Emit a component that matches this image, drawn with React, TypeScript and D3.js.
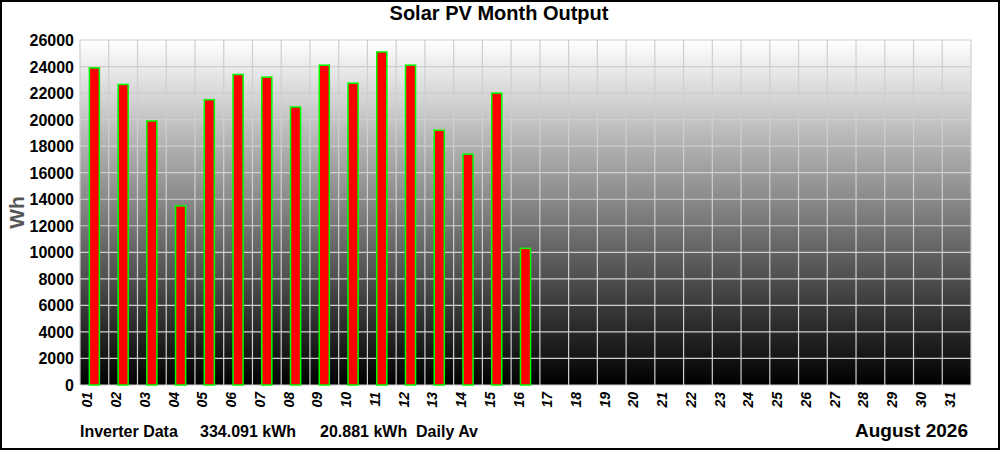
import { useEffect, useRef } from "react"
import * as d3 from "d3"

// daily output, Wh (days 17..31 have no data yet)
const days = d3.range(1, 32).map((d) => String(d).padStart(2, "0"))
const values = [
  23900, 22650, 19900, 13500, 21500, 23400, 23200, 20950, 24100, 22750, 25100,
  24100, 19200, 17400, 22000, 10300,
]
const yTicks = d3.range(0, 26001, 2000)
const title = "Solar PV Month Output"
const footerLabels = ["Inverter Data", "334.091 kWh", "20.881 kWh  Daily Av"]
const monthLabel = "August 2026"

const W = 1000
const H = 450
const FONT = "Arial, 'Liberation Sans', sans-serif"

const App = () => {
  const ref = useRef<SVGSVGElement>(null)

  useEffect(() => {
    const margin = { top: 40, right: 29, bottom: 65, left: 80 }
    const innerW = W - margin.left - margin.right
    const innerH = H - margin.top - margin.bottom

    const svg = d3.select(ref.current)
    svg.selectAll("*").remove()

    const defs = svg.append("defs")
    const grad = defs
      .append("linearGradient")
      .attr("id", "bg")
      .attr("x1", 0)
      .attr("y1", 0)
      .attr("x2", 0)
      .attr("y2", 1)
    grad.append("stop").attr("offset", "0%").attr("stop-color", "#ffffff")
    grad.append("stop").attr("offset", "100%").attr("stop-color", "#000000")

    svg.append("rect").attr("width", W).attr("height", H).attr("fill", "#fff")

    const g = svg
      .append("g")
      .attr("transform", "translate(" + margin.left + "," + margin.top + ")")

    const x = d3.scaleBand().domain(days).range([0, innerW]).padding(0)
    const y = d3.scaleLinear().domain([0, 26000]).range([innerH, 0])

    // plot background
    g.append("rect")
      .attr("width", innerW)
      .attr("height", innerH)
      .attr("fill", "url(#bg)")

    // grid
    g.selectAll(".hgrid")
      .data(yTicks)
      .enter()
      .append("line")
      .attr("x1", 0)
      .attr("x2", innerW)
      .attr("y1", (d) => y(d))
      .attr("y2", (d) => y(d))
      .attr("stroke", "#cfcfcf")
      .attr("stroke-width", 1.2)

    const vlines = days.map((d) => x(d) as number).concat([innerW])
    g.selectAll(".vgrid")
      .data(vlines)
      .enter()
      .append("line")
      .attr("x1", (d) => d)
      .attr("x2", (d) => d)
      .attr("y1", 0)
      .attr("y2", innerH)
      .attr("stroke", "#cfcfcf")
      .attr("stroke-width", 1.2)

    // bars
    const bw = x.bandwidth() * 0.35
    g.selectAll(".bar")
      .data(values)
      .enter()
      .append("rect")
      .attr("x", (d, i) => (x(days[i]) as number) + x.bandwidth() / 2 - bw / 2)
      .attr("y", (d) => y(d))
      .attr("width", bw)
      .attr("height", (d) => innerH - y(d))
      .attr("fill", "#ff0000")
      .attr("stroke", "#00ff00")
      .attr("stroke-width", 1.5)

    // y tick labels
    g.selectAll(".ylab")
      .data(yTicks)
      .enter()
      .append("text")
      .text((d) => d)
      .attr("x", -6)
      .attr("y", (d) => y(d) + 6)
      .attr("text-anchor", "end")
      .attr("font-family", FONT)
      .attr("font-weight", "bold")
      .attr("font-size", "16px")
      .attr("fill", "#000")

    // x tick labels
    g.selectAll(".xlab")
      .data(days)
      .enter()
      .append("text")
      .text((d) => d)
      .attr(
        "transform",
        (d) =>
          "translate(" +
          ((x(d) as number) + x.bandwidth() / 2 - 2) +
          "," +
          (innerH + 7) +
          ")rotate(-90)"
      )
      .attr("text-anchor", "end")
      .attr("font-family", FONT)
      .attr("font-weight", "bold")
      .attr("font-style", "italic")
      .attr("font-size", "14px")
      .attr("fill", "#000")

    // y axis title
    svg
      .append("text")
      .text("Wh")
      .attr("transform", "translate(24," + (margin.top + innerH / 2) + ")rotate(-90)")
      .attr("text-anchor", "middle")
      .attr("font-family", FONT)
      .attr("font-weight", "bold")
      .attr("font-size", "21px")
      .attr("fill", "#555")

    // title
    svg
      .append("text")
      .text(title)
      .attr("x", 499)
      .attr("y", 20)
      .attr("text-anchor", "middle")
      .attr("font-family", FONT)
      .attr("font-weight", "bold")
      .attr("font-size", "20px")
      .attr("fill", "#000")

    // footer
    const footerX = [80, 200, 320]
    svg
      .selectAll(".foot")
      .data(footerLabels)
      .enter()
      .append("text")
      .text((d) => d)
      .attr("x", (d, i) => footerX[i])
      .attr("y", 437)
      .attr("font-family", FONT)
      .attr("font-weight", "bold")
      .attr("font-size", "16px")
      .attr("fill", "#000")
      .style("white-space", "pre")

    svg
      .append("text")
      .text(monthLabel)
      .attr("x", 968)
      .attr("y", 437)
      .attr("text-anchor", "end")
      .attr("font-family", FONT)
      .attr("font-weight", "bold")
      .attr("font-size", "19px")
      .attr("fill", "#000")

    // outer border
    svg
      .append("rect")
      .attr("x", 1)
      .attr("y", 1)
      .attr("width", W - 2)
      .attr("height", H - 2)
      .attr("fill", "none")
      .attr("stroke", "#000")
      .attr("stroke-width", 2)
  }, [])

  return (
    <div style={{ position: "absolute", left: 0, top: 0 }}>
      <svg ref={ref} width={W} height={H} style={{ display: "block" }}></svg>
    </div>
  )
}

export default App
